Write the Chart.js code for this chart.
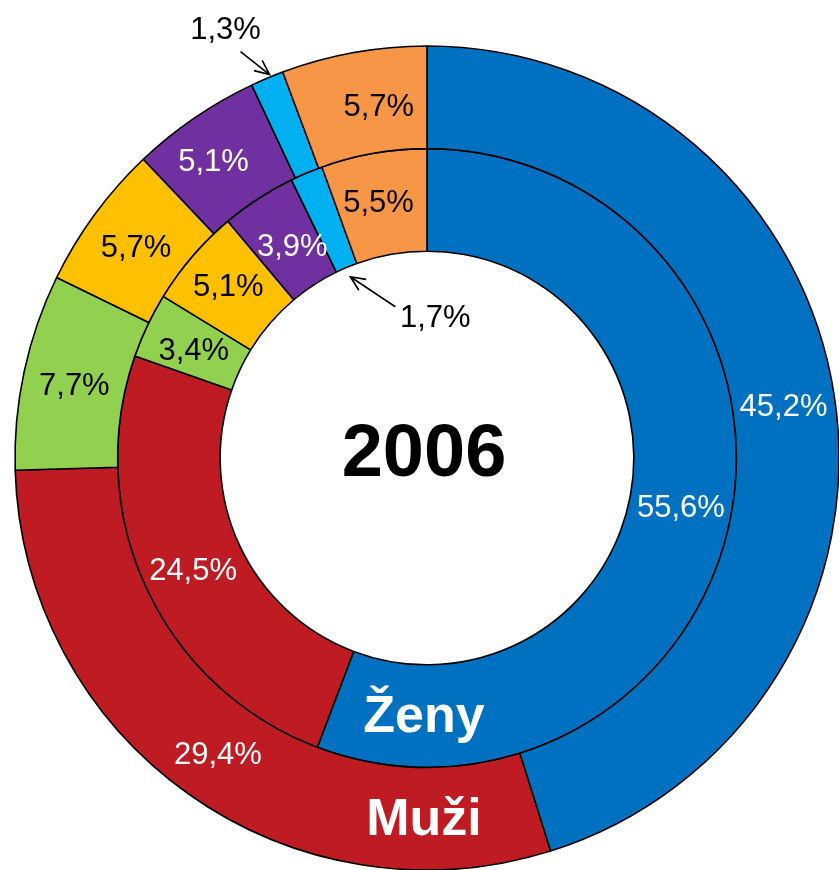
<!DOCTYPE html>
<html>
<head>
<meta charset="utf-8">
<script src="https://cdn.jsdelivr.net/npm/chart.js@4.4.0/dist/chart.umd.min.js"></script>
<style>
  html, body { margin: 0; padding: 0; background: #fff; }
  #wrap { width: 839px; height: 870px; }
</style>
</head>
<body>
<div id="wrap"><canvas id="chart" width="839" height="870"></canvas></div>
<script>
const ctx = document.getElementById('chart');

// data, clockwise from the top
const categories = ['Kategorie 1', 'Kategorie 2', 'Kategorie 3', 'Kategorie 4', 'Kategorie 5', 'Kategorie 6', 'Kategorie 7'];
const colors = ['#0070C0', '#BE1B22', '#92D050', '#FFC000', '#7030A0', '#00B0F0', '#F79646'];
const textColors = ['#fff', '#fff', '#000', '#000', '#fff', '#000', '#000'];
const seriesNames = ['Muži', 'Ženy'];
const muzi = [45.2, 29.4, 7.7, 5.7, 5.1, 1.3, 5.7];
const zeny = [55.6, 24.5, 3.4, 5.1, 3.9, 1.7, 5.5];
const yearLabel = '2006';
const calloutIndex = 5; // the thin slice gets a label with an arrow

// a few labels sit off-centre in the original
const labelNudge = { '0-4': [-10, -2], '0-6': [16, 0], '1-3': [-3, -6], '1-4': [6, 2], '1-6': [-4, -4] };

const fmt = v => v.toFixed(1).replace('.', ',') + '%';

function arrow(c, x1, y1, x2, y2) {
    // line from (x1,y1) to tip (x2,y2) with open head
    const a = Math.atan2(y2 - y1, x2 - x1);
    const len = 16, spread = 0.42;
    c.beginPath();
    c.moveTo(x1, y1);
    c.lineTo(x2, y2);
    c.moveTo(x2 - len * Math.cos(a - spread), y2 - len * Math.sin(a - spread));
    c.lineTo(x2, y2);
    c.lineTo(x2 - len * Math.cos(a + spread), y2 - len * Math.sin(a + spread));
    c.stroke();
}

const labelPlugin = {
    id: 'ringLabels',
    afterDatasetsDraw(chart) {
        const c = chart.ctx;
        c.save();
        c.textAlign = 'center';
        c.textBaseline = 'middle';
        c.lineWidth = 1.6;
        c.strokeStyle = '#000';

        chart.data.datasets.forEach((ds, di) => {
            const meta = chart.getDatasetMeta(di);
            meta.data.forEach((arc, i) => {
                const p = arc.getProps(['x', 'y', 'startAngle', 'endAngle', 'innerRadius', 'outerRadius'], true);
                const mid = (p.startAngle + p.endAngle) / 2;
                c.font = '31px "Liberation Sans", Arial, sans-serif';
                if (i === calloutIndex) {
                    c.fillStyle = '#000';
                    if (di === 0) {
                        const tx = p.x + Math.cos(mid) * (p.outerRadius + 4) + 4;
                        const ty = p.y + Math.sin(mid) * (p.outerRadius + 4);
                        arrow(c, tx - 29, ty - 23, tx, ty);
                        c.fillText(fmt(ds.data[i]), tx - 44, ty - 44);
                    } else {
                        const tx = p.x + Math.cos(mid) * (p.innerRadius - 10);
                        const ty = p.y + Math.sin(mid) * (p.innerRadius - 10);
                        arrow(c, tx + 45, ty + 30, tx, ty);
                        c.fillText(fmt(ds.data[i]), tx + 85, ty + 42);
                    }
                    return;
                }
                const pos = arc.tooltipPosition(true);
                const n = labelNudge[di + '-' + i] || [0, 0];
                c.fillStyle = textColors[i];
                c.fillText(fmt(ds.data[i]), pos.x + n[0], pos.y + 4 + n[1]);
            });

            // series name at the bottom of its ring
            const ctrl = meta.controller;
            const r = (ctrl.innerRadius + ctrl.outerRadius) / 2;
            const first = meta.data[0];
            c.font = 'bold 52px "Liberation Sans", Arial, sans-serif';
            c.fillStyle = '#fff';
            c.fillText(ds.label, first.x - 3, first.y + r + 2);
        });

        // year in the hole
        const first = chart.getDatasetMeta(0).data[0];
        c.font = 'bold 74px "Liberation Sans", Arial, sans-serif';
        c.fillStyle = '#000';
        c.fillText(yearLabel, first.x - 3, first.y - 2);
        c.restore();
    }
};

const config = {
    type: 'doughnut',
    data: {
        labels: categories,
        datasets: [
            { label: seriesNames[0], data: muzi, backgroundColor: colors, borderColor: '#000', borderWidth: 1.6 },
            { label: seriesNames[1], data: zeny, backgroundColor: colors, borderColor: '#000', borderWidth: 1.6 }
        ]
    },
    options: {
        responsive: false,
        animation: false,
        radius: 412,
        cutout: '50.2%',
        layout: {
            padding: { top: 46, bottom: 0, left: 15, right: 0 }
        },
        plugins: {
            legend: { display: false },
            tooltip: { enabled: false }
        }
    },
    plugins: [labelPlugin]
};

const myChart = new Chart(ctx, config);
</script>
</body>
</html>
